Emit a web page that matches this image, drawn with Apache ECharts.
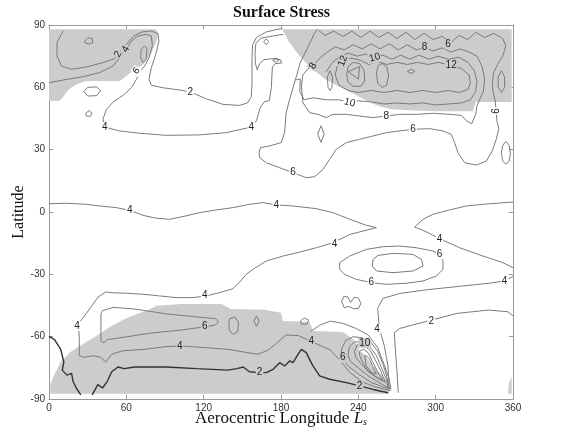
<!DOCTYPE html>
<html>
<head>
<meta charset="utf-8">
<script src="https://cdn.jsdelivr.net/npm/echarts@6/dist/echarts.min.js"></script>
<style>
  html, body { margin: 0; padding: 0; background: #fff; }
  #chart { width: 563px; height: 431px; }
</style>
</head>
<body>
<div id="chart"></div>
<script>
// axis ticks
const lsTicks = [0, 60, 120, 180, 240, 300, 360]
const latTicks = [-90, -60, -30, 0, 30, 60, 90]

// grey shaded areas [Ls, lat]
const shadeNW = [[0,88],[83,88],[85,86],[83,81.5],[79,76],[73,71],[65,68],[60,65.5],[55,63],[39,63],[29,63],[21,61.4],[15,58.7],[11,55.5],[8,53.4],[0,53.4]]
const shadeNE = [[181,88],[186,82],[192,77],[199,72],[206,68],[214,64],[223,61],[233,58],[242,55],[250,52.5],[258,50.5],[266,49.5],[280,49],[300,48.5],[329,48.5],[331,53],[359,53],[359,88]]
const shadeS = [[1,-87.5],[1,-83],[4,-78.5],[9,-72.3],[16,-67.6],[26,-63.7],[40,-58.3],[47.5,-55.2],[59.5,-51.3],[69,-49],[78.7,-46.7],[83.5,-45.1],[102.7,-44.3],[134,-44.3],[141,-46.7],[167.5,-47.1],[180,-48.5],[181.5,-52.5],[202,-53],[205,-57.3],[228,-57.8],[236,-61.3],[243.6,-67.7],[251,-74],[259,-79],[263,-82],[264,-87.5]]
const shadeSE = [[356,-87.5],[359,-87.5],[359,-79],[357,-82]]
const clearCluster = [[240,-64.5],[246,-63.5],[250,-66.5],[250,-70],[245,-68.5],[241,-67]]

// contour lines [Ls, lat]
const c4Equator = [[0,4],[13.4,4.2],[29,3.7],[39.3,2.9],[52.2,2.1],[62.6,0.8],[72.9,-1.6],[83.3,-3],[93.6,-3.5],[104,-2.2],[116.9,-0.3],[129.8,1],[142.7,2.1],[155.7,3.7],[166,4.5],[176.4,3.4],[189.3,2.9],[207.4,1.6],[220.3,-0.3],[233.3,-3.5],[246.2,-6.4],[254,-7.5],[243.6,-9.2],[233.3,-10.8],[220.3,-14.8],[207.4,-17.2],[194.5,-19.3],[181.5,-21.2],[168.6,-23.6],[158.3,-27.6],[153,-30],[148,-33.7],[142.7,-36.9],[132.4,-38.8],[122,-40.4],[111.7,-41.2],[98.8,-41.2],[85.9,-40.4],[72.9,-39.6],[60,-39.1],[49.9,-38.9],[44,-38.5],[38,-41],[33,-45.4],[28,-49.6],[23.5,-53.2],[23,-55],[23.5,-61.4],[23.5,-69.2],[27.1,-69.9],[34.3,-69.2],[40.3,-69.9],[43.9,-72.3],[48.7,-68.4],[57.1,-66.8],[73.9,-66.1],[90.7,-64.8],[102.7,-64.5],[121.9,-65.3],[138.7,-66.1],[153,-67.6],[162,-68.5],[170,-66.5],[176.4,-63.2],[183.9,-59.2],[193.7,-59.5],[203.5,-62.4],[218.3,-66.4],[225.5,-71.2],[233,-76.9],[242.8,-81.7],[252.6,-84.1],[265,-86]]
const c4Right = [[360,4.8],[336.7,3.7],[323.8,2.9],[310.8,1],[297.9,-1.1],[290.2,-3.5],[283.7,-7.2],[292.7,-9.5],[303,-12.8],[318.6,-17.2],[336.7,-21.2],[352.2,-24.4],[360,-26.8]]
const c6Mid = [[225.5,-27.6],[225.5,-24.4],[233.3,-21.2],[246.2,-18],[259.1,-16.7],[272,-16.4],[285,-17.2],[297.9,-18.8],[303,-20.4],[305.7,-23.6],[305.7,-27.6],[300.5,-30.8],[290.2,-33.2],[277.2,-34.3],[261.7,-34.8],[250,-34],[238.4,-32.4],[229.4,-30],[225.5,-27.6]]
const c8Mid = [[251.4,-22.8],[255.2,-20.9],[266.9,-19.9],[282.4,-20.4],[288.9,-22.8],[290.2,-26],[282.4,-28.4],[266.9,-29.2],[254,-28.4],[250.8,-26],[251.4,-22.8]]
const c4SouthEast = [[264,-86],[263,-74],[260,-64],[256.3,-56],[255,-46.4],[259,-41.6],[272.3,-39.2],[292,-37.5],[316.5,-35.9],[341,-34.3],[353.5,-33.2],[360,-31]]
const c2SouthEast = [[271,-87],[270,-77],[268.5,-64],[268,-58],[272.3,-56],[292,-52.8],[296.9,-52],[316.5,-48.8],[341,-47.2],[356,-48],[360,-50]]
const c2South = [[33.5,-88],[37.9,-83.1],[41.5,-84.7],[45.1,-81.6],[48.7,-76.9],[53.5,-74.6],[58.3,-75.4],[66.7,-74.6],[90.7,-74.6],[114.7,-75.4],[138.7,-76.1],[145.9,-75.4],[150.7,-74.6],[155.5,-76.9],[163.4,-77.3],[168.6,-77.3],[173.8,-75.7],[179,-72.5],[182.8,-74.1],[186.7,-71.7],[189.3,-72.5],[193.2,-68.5],[195.8,-66.1],[199.6,-67.7],[202.2,-70.9],[204.8,-74.1],[210,-78.9],[217.7,-80.5],[230.7,-82.1],[241,-83.7],[251.4,-85.4],[263,-87]]
const c2SouthWest = [[0,-59.9],[4.3,-61.4],[9.1,-66.1],[11.5,-72.3],[10.3,-76.1],[13.9,-78.5],[17.5,-77.7],[18.7,-81.6],[21.1,-84.7],[24.7,-88]]
const c6South = [[40.3,-49],[41.5,-47.5],[49.9,-45.9],[66.7,-46.7],[90.7,-49],[114.7,-50.5],[129.1,-51.3],[131.5,-52.9],[129.1,-54.4],[121.4,-55.2],[102.7,-56.8],[78.7,-58.3],[54.7,-60.6],[45.1,-61.4],[42.7,-63],[40.3,-62.2],[40.3,-53.7],[40.3,-49]]
const cClusterOuter = [[203,-57.5],[210,-54.5],[218.3,-52.5],[228,-53.6],[238,-56],[247.7,-59.2],[255.2,-65.6],[260.1,-73.6],[263.8,-80],[265.3,-85.5]]
const cCluster6 = [[227,-70],[227,-66],[230,-62],[236,-60],[243,-60.5],[250,-63],[255,-67],[259,-73],[262,-79],[264,-85],[258,-84],[250,-82],[240,-78],[232,-74],[227,-70]]
const cCluster8 = [[232,-69],[233,-65],[237,-62.5],[243,-62.5],[249,-65],[254,-69],[258,-75],[262,-81],[263,-84.5],[256,-82],[248,-79],[240,-75],[234,-72],[232,-69]]
const cCluster10 = [[237,-67],[239,-64],[244,-64],[249,-66.5],[253,-71],[257,-76],[261,-82],[255,-80],[248,-77],[242,-73],[238,-70],[237,-67]]
const cCluster12 = [[241,-67],[244,-66],[248,-68],[251,-72],[255,-77],[259,-81],[253,-79],[247,-76],[243,-72],[241,-69],[241,-67]]
const cCluster14 = [[245,-69],[248,-70],[251,-74],[254,-78],[250,-77],[246,-74],[245,-69]]
const cBean = [[227,-43],[229,-40.5],[232,-41],[234,-43.5],[237,-41],[240,-41.5],[242,-44],[240,-46.5],[236,-46.5],[233,-45.5],[229,-46],[227,-43]]

const c2North = [[11,87],[9,85],[6.2,81.5],[6.2,75.1],[9.6,70.3],[17.3,68.7],[29,69.8],[41.9,71.9],[50.9,73.8],[54.8,76.7],[60,80.7],[65.2,84.4],[71.6,86.6],[79.4,87.1],[84.6,85.8],[85.3,82.3],[82.8,75.9],[79.4,69.5],[77.6,63.8],[79.4,61],[88.4,59.8],[101.4,58.7],[109.6,57.8],[122,54.5],[135,51.8],[147.9,51.3],[154,52.5],[157,55.5],[157.5,62],[157.5,75],[158,80.5],[161,84],[168,86.5],[176,87.8],[181,88.2]]
const c4North = [[0,62.2],[13.4,63.8],[26.4,65.1],[39.3,67.1],[49.7,70.3],[56.1,75.1],[60,78.3],[63.9,82.3],[69,84.7],[75.5,85.5],[79.4,84.7],[80.2,79.9],[77.6,74.3],[74.2,70.3],[70.3,67.4],[67.8,63.8],[63.9,59.8],[57.4,56.1],[49.7,52.9],[44.5,49.4],[41.9,44.6],[43.2,40.9],[54.8,39],[70.3,37.9],[91,36.9],[116.9,37.1],[137.6,38.2],[157,40.9],[161,44],[164,50.5],[167,53],[171,53.7],[172.5,60],[173.3,69.8],[175.6,71.4],[180.5,71.7],[179.5,73.3],[173.3,73.8],[166.8,73.3],[163.5,71.4],[161.5,68.5],[160.2,71.4],[159.8,76.2],[160.5,81],[164,83.6],[173.3,84.7],[181.8,85.5]]
const c6North = [[208,88],[206,86],[203,82],[199,77],[195,72],[192.4,66.3],[189.3,59.8],[186.7,54.2],[184,47.8],[182.8,38.2],[180.2,33.4],[171.2,31.8],[164,31],[163,28.6],[163.4,26.2],[168.6,23.7],[179,21.3],[189.3,18.9],[199.6,16.5],[206.1,17],[212.6,20.5],[217.7,25.3],[222.9,30.2],[230.7,33.4],[241,35],[251.4,36.6],[261.7,38.2],[272,39],[282.4,39.8],[295.3,40.1],[305.7,39],[312.1,37.4],[314.7,33.4],[317.3,28.6],[322.5,23.7],[331.5,22.6],[339.3,24.5],[343.9,29.4],[347,35],[349,40],[347.5,44],[347,48.6],[346,54],[344.5,58],[344,62],[345,67],[348,71],[352,75],[354.5,80],[352,83.5],[345,86],[338,84],[331,86.5],[325,83],[318,85],[312,81.5],[305,84.5],[298,83],[291,86],[284,83],[277,86.5],[270,83.5],[263,86.5],[256,84],[249,87],[242,84],[235,87],[228,84.5],[221,87],[214,85],[209,87.5]]
const c8North = [[204.8,70.3],[210,74],[216,77],[222,79.5],[229,78],[236,80.5],[243,78.5],[250,81],[257,78.5],[264,81],[271,78],[278,80.5],[285,78],[291.4,79.1],[298,77.5],[305,79],[312,77],[319,78.5],[326,77],[332,75],[336,70],[338,64],[337,58],[334,54],[332,51],[331,47],[328,42.5],[324,43.8],[320,46.5],[310.8,47],[297.9,47.5],[285,47],[272,47],[261.7,46.2],[251.4,45.4],[241,46.2],[230.7,47],[220.3,47],[215.2,45.4],[208.7,47],[202.2,47.8],[197,52.6],[195.8,60.6],[197,66],[201,69],[204.8,70.3]]
const c10North = [[191,63.5],[195,64],[194.5,58],[198,54],[205,55],[215,54],[225,54],[233.3,52.8],[240,53.5],[250,53],[260,52],[270,52.5],[280,52],[290,52.5],[300,51.5],[310,52],[320,52.5],[327,54],[331,58],[332,63],[330,68],[325,72],[318,74.5],[310,73.5],[302,75],[295,73.5],[287,75.5],[280,73.5],[273,75.5],[266,73.5],[259,75.5],[252.7,74.3],[246,76],[239,75],[232,76.5],[226,75],[220,72],[215,67.5]]
const c12North = [[222,66],[224,71],[228,73.5],[235,74],[242,73],[248,71],[255,72.5],[262,71],[270,72],[278,71],[286,72],[294,71],[302,72],[312,70.7],[320,69],[326,66],[327,62],[325,59],[318,57.5],[310,58.5],[300,57.5],[290,58.5],[280,57.5],[270,58.5],[260,57.5],[250,58.5],[240,57.5],[232,58.5],[225,61],[222,66]]

// small closed loops
const loops = [
  [[140,-51.5],[144,-50.5],[147,-53],[146.5,-57.5],[143,-59],[140,-57],[139.5,-53.5],[140,-51.5]],
  [[161,-50],[163,-52.5],[161,-55],[159,-52.5],[161,-50]],
  [[195,-52.5],[198,-51],[201.5,-52],[200,-54],[196,-54],[195,-52.5]],
  [[28,82.5],[30,83.8],[33.5,83.5],[34,81.5],[31,80.8],[28,81.5],[28,82.5]],
  [[28.5,47.5],[31,48.8],[33.5,47.5],[32,46],[29,46.2],[28.5,47.5]],
  [[166.5,82],[168.5,83.3],[170.5,82],[168.5,80.5],[166.5,82]],
  [[173.5,73],[176,74],[178.5,73.3],[176,72],[173.5,73]],
  [[211,41.5],[213.5,37.5],[211,33.5],[208.5,37.5],[211,41.5]],
  [[218,68],[220,65],[219.5,60],[218,58.5],[216.5,60],[216,65],[218,68]],
  [[258.5,71.5],[262,70],[263.5,66],[262,61],[258.5,60],[255,62],[254,67],[255.5,70.5],[258.5,71.5]],
  [[278,67.7],[281,68.8],[284,67.7],[281,66.7],[278,67.7]],
  [[231,66],[232,70],[236,72],[241,71.5],[244.5,68],[245,63],[242,60.5],[236,60.5],[232,62.5],[231,66]],
  [[232,67.5],[241,70],[240,64],[232,67.5]],
  [[351,68],[353.5,65],[353.5,60],[351,57.5],[348.5,60],[348.5,65],[351,68]],
  [[354.5,34],[357,32],[358,28],[357,24.5],[354.5,23],[352,24.5],[351,28.5],[352,32],[354.5,34]],
  [[71.6,78.3],[74.2,79.9],[76,78.6],[75.5,73.5],[72.9,71.9],[71.1,74.3],[71.6,78.3]]
]
const whiteLoop = [[27,58],[30,60],[37,60.2],[40,58.5],[37,56],[30,55.8],[27,58]]

// contour labels [Ls, lat, text, rotation deg, on grey]
const labels = [
  [62.6,0.8,'4',0,0],[176.4,3.4,'4',0,0],[221.6,-15.5,'4',0,0],[303,-13.2,'4',0,0],
  [303,-20.4,'6',0,0],[250,-34,'6',0,0],[353.5,-33.2,'4',0,0],[120.8,-40.1,'4',0,0],
  [120.8,-55.2,'6',0,1],[101.4,-64.5,'4',0,1],[163.4,-77.3,'2',0,1],[21.7,-54.9,'4',0,0],
  [203.5,-62.4,'4',0,1],[228,-70.1,'6',0,1],[245,-63,'10',0,1],[241,-83.7,'2',0,1],
  [254.5,-56.2,'4',0,0],[296.6,-52.5,'2',0,0],
  [53.5,75.9,'2',60,1],[59.5,78.3,'4',60,1],[67.8,67.9,'6',50,0],[109.6,57.8,'2',0,0],
  [43.2,40.9,'4',0,0],[157,40.9,'4',0,0],[189.3,18.9,'6',0,0],[204.8,70.3,'8',60,1],
  [228,72.7,'12',70,1],[252.7,74.3,'10',15,1],[291.4,79.1,'8',0,1],[309.5,80.7,'6',0,1],
  [312,70.7,'12',0,1],[233.3,52.6,'10',-15,0],[261.7,46.2,'8',0,0],[282.4,39.8,'6',0,0],
  [347,48.6,'6',90,0]
]

const GREY = '#cccccc'
const LINE = '#7a7a7a'

function area(points, fill, z) {
  return {
    type: 'custom', silent: true, clip: true, z: z,
    data: [[points[0][0], points[0][1]]],
    renderItem: function (params, api) {
      return {
        type: 'polygon',
        shape: { points: points.map(p => api.coord(p)) },
        style: { fill: fill, stroke: null }
      }
    }
  }
}

function contour(points, color, width) {
  return {
    type: 'line', data: points, symbol: 'none', silent: true, z: 3,
    lineStyle: { color: color || LINE, width: width || 1 }
  }
}

const series = [
  area(shadeNW, GREY, 1), area(shadeNE, GREY, 1), area(shadeS, GREY, 1), area(shadeSE, GREY, 1),
  area(clearCluster, '#ffffff', 2), area(whiteLoop, '#ffffff', 2),
  contour(c4Equator), contour(c4Right), contour(c6Mid), contour(c8Mid),
  contour(c4SouthEast), contour(c2SouthEast),
  contour(c2South, '#333333', 1.4), contour(c2SouthWest, '#333333', 1.4),
  contour(c6South), contour(cClusterOuter), contour(cCluster6), contour(cCluster8),
  contour(cCluster10), contour(cCluster12), contour(cCluster14), contour(cBean),
  contour(c2North), contour(c4North), contour(c6North), contour(c8North),
  contour(c10North), contour(c12North), contour(whiteLoop)
]
loops.forEach(l => series.push(contour(l)))
series.push({
  type: 'custom', silent: true, z: 5,
  data: labels.map(l => [l[0], l[1]]),
  renderItem: function (params, api) {
    const l = labels[params.dataIndex]
    const c = api.coord([l[0], l[1]])
    return {
      type: 'text', x: c[0], y: c[1], rotation: l[3] * Math.PI / 180,
      style: {
        text: l[2], fill: '#222', font: '10px "Liberation Sans", Arial',
        align: 'center', verticalAlign: 'middle',
        backgroundColor: l[4] ? GREY : '#ffffff', padding: [0, 1]
      }
    }
  }
})

function axisBase(min, max, interval) {
  return {
    type: 'value', min: min, max: max, interval: interval,
    axisLine: { show: true, onZero: false, lineStyle: { color: '#999', width: 1 } },
    axisTick: { show: true, inside: true, length: 4, lineStyle: { color: '#999' } },
    splitLine: { show: false }
  }
}

const chart = echarts.init(document.getElementById('chart'))
chart.setOption({
  animation: false,
  title: {
    text: 'Surface Stress', left: 'center', top: 0,
    textStyle: { fontFamily: '"Liberation Serif", serif', fontWeight: 'bold', fontSize: 16, color: '#111' }
  },
  grid: { left: 49, right: 50, top: 25, bottom: 32, containLabel: false, outerBoundsMode: 'none' },
  xAxis: [
    Object.assign(axisBase(lsTicks[0], lsTicks[lsTicks.length - 1], 60), {
      position: 'bottom',
      axisLabel: { color: '#333', fontSize: 10, margin: 4, fontFamily: '"Liberation Sans", Arial' },
      name: 'Aerocentric Longitude {i|L}{s|s}', nameLocation: 'middle', nameGap: 11, nameMoveOverlap: false,
      nameTextStyle: {
        fontFamily: '"Liberation Serif", serif', fontSize: 17, color: '#111',
        rich: {
          i: { fontFamily: '"Liberation Serif", serif', fontSize: 17, fontStyle: 'italic', color: '#111' },
          s: { fontFamily: '"Liberation Serif", serif', fontSize: 10, fontStyle: 'italic', color: '#111', verticalAlign: 'bottom', padding: [7, 0, 0, 0] }
        }
      }
    }),
    Object.assign(axisBase(0, 360, 60), { position: 'top', axisLabel: { show: false } })
  ],
  yAxis: [
    Object.assign(axisBase(latTicks[0], latTicks[latTicks.length - 1], 30), {
      position: 'left',
      axisLabel: { color: '#333', fontSize: 10, margin: 4, fontFamily: '"Liberation Sans", Arial' },
      name: 'Latitude', nameLocation: 'middle', nameGap: 22, nameMoveOverlap: false,
      nameTextStyle: { fontFamily: '"Liberation Serif", serif', fontSize: 16, color: '#111' }
    }),
    Object.assign(axisBase(-90, 90, 30), { position: 'right', axisLabel: { show: false } })
  ],
  series: series
})
</script>
</body>
</html>
